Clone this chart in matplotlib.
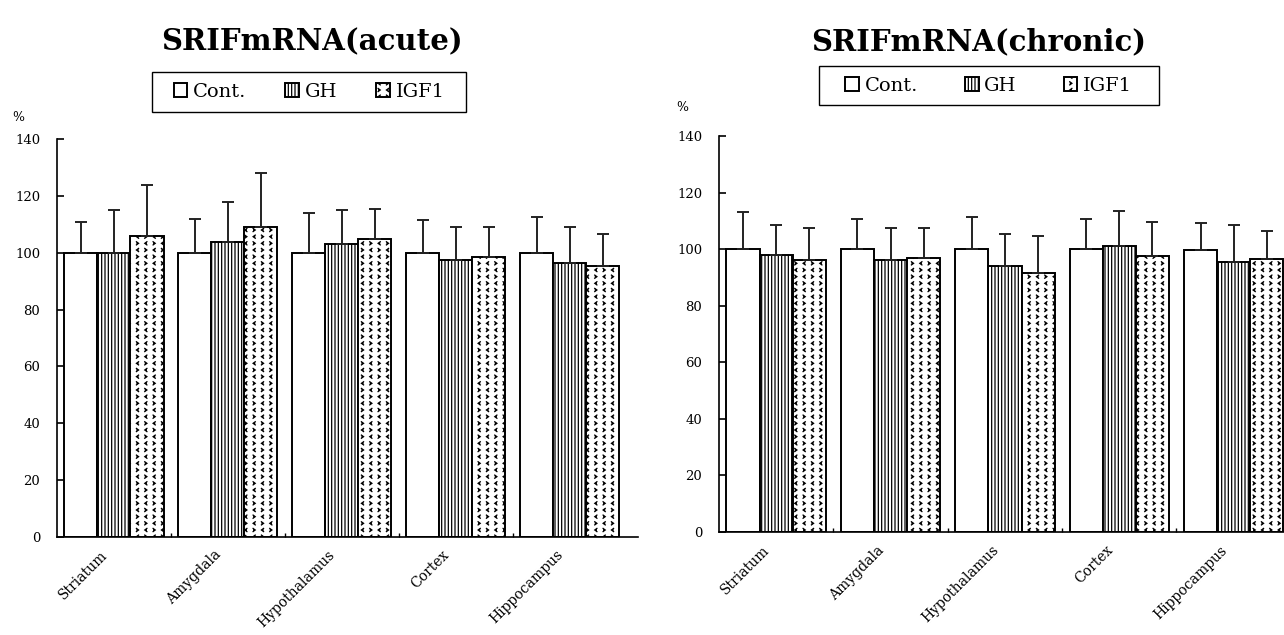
import numpy as np
import matplotlib
matplotlib.use('Agg')
import matplotlib.pyplot as plt
from matplotlib.patches import Rectangle
from matplotlib import hatch as mhatch
from matplotlib.path import Path

# data (percent of control, upper error bar length)
regions = ['Striatum', 'Amygdala', 'Hypothalamus', 'Cortex', 'Hippocampus']
groups = ['Cont.', 'GH', 'IGF1']

acute_cont = [100, 100, 100, 100, 100]
acute_gh = [100, 104, 103, 97.5, 96.5]
acute_igf1 = [106, 109, 105, 98.5, 95.5]
acute_cont_err = [11, 12, 14, 11.5, 12.5]
acute_gh_err = [15, 14, 12, 11.5, 12.5]
acute_igf1_err = [18, 19, 10.5, 10.5, 11]

chronic_cont = [100, 100, 100, 100, 99.6]
chronic_gh = [98, 96, 94, 101, 95.5]
chronic_igf1 = [96, 97, 91.5, 97.5, 96.5]
chronic_cont_err = [13, 10.5, 11.5, 10.5, 9.7]
chronic_gh_err = [10.5, 11.5, 11.5, 12.5, 13]
chronic_igf1_err = [11.5, 10.5, 13, 12, 9.8]

yticks = [0, 20, 40, 60, 80, 100, 120, 140]


# custom "< >" chevron hatch, used in place of the star hatch '*'
class Chevrons(mhatch.HatchPatternBase):
    def __init__(self, hatch, density):
        n = hatch.count('*')
        self.cols = 12 if n else 0
        self.rows = 15 if n else 0
        self.num_vertices = self.cols * self.rows * 3

    def set_vertices_and_codes(self, vertices, codes):
        k = 0
        w = 0.13 / self.cols
        h = 0.24 / self.rows
        for i in range(self.rows):
            for j in range(self.cols):
                cx = (j + 0.5) / self.cols
                cy = (i + 0.5) / self.rows
                d = 1 if (i + j) % 2 == 0 else -1
                vertices[k:k + 3] = [(cx - d * w, cy + h), (cx + d * w, cy), (cx - d * w, cy - h)]
                codes[k:k + 3] = [Path.MOVETO, Path.LINETO, Path.LINETO]
                k += 3


mhatch._hatch_types = [t for t in mhatch._hatch_types if t is not mhatch.Stars] + [Chevrons]

plt.rcParams['font.family'] = ['DejaVu Serif']
plt.rcParams['hatch.linewidth'] = 0.9

hatches = ['', '|||||', '*']
width = 0.29


def draw_panel(ax, means, errs, xmax):
    x = np.arange(len(regions))
    for k in range(3):
        pos = x + (k - 1) * width
        ax.bar(pos, means[k], width, color='white', edgecolor='black',
               linewidth=1.4, hatch=hatches[k], label=groups[k], zorder=2)
        ax.errorbar(pos, means[k], yerr=[np.zeros(len(regions)), errs[k]],
                    fmt='none', ecolor='#222222', elinewidth=1.4, capsize=4,
                    capthick=1.4, zorder=3)
    ax.set_xlim(-0.5, xmax)
    ax.set_ylim(0, 140)
    ax.set_yticks(yticks)
    ax.tick_params(axis='y', direction='in', length=5, width=1.2, labelsize=9.5, pad=12)
    # label anchors sit a little left of the group centre, tick marks hidden
    ax.set_xticks(x - 0.12)
    ax.set_xticklabels(regions, rotation=45, ha='right', rotation_mode='anchor', fontsize=10)
    ax.set_xticks(x[:-1] + 0.5, minor=True)
    ax.tick_params(axis='x', which='major', length=0, pad=8)
    ax.tick_params(axis='x', which='minor', direction='in', length=3, width=1)
    ax.spines['top'].set_visible(False)
    ax.spines['right'].set_visible(False)
    ax.spines['left'].set_linewidth(1.2)
    ax.spines['bottom'].set_linewidth(1.2)


def legend_box(ax, center, box, colsp):
    ax.legend(loc='center', bbox_to_anchor=center, bbox_transform=fig.transFigure,
              ncol=3, fontsize=14, frameon=False, handlelength=0.7, handleheight=0.7,
              handletextpad=0.3, columnspacing=colsp)
    # frame drawn separately so it can be wider than the entries need
    x0, y0, x1, y1 = box
    fig.add_artist(Rectangle((x0 / 1284, 1 - y1 / 635), (x1 - x0) / 1284, (y1 - y0) / 635,
                             transform=fig.transFigure, fill=False, edgecolor='black',
                             linewidth=1.0))


fig = plt.figure(figsize=(12.84, 6.35), dpi=100)

ax1 = fig.add_axes([0.0444, 0.1548, 0.4525, 0.6258])
draw_panel(ax1, [acute_cont, acute_gh, acute_igf1],
           [acute_cont_err, acute_gh_err, acute_igf1_err], 4.6)
ax1.text(-0.067, 1.056, '%', transform=ax1.transAxes, ha='center', va='center', fontsize=9)
fig.text(0.243, 0.934, 'SRIFmRNA(acute)', ha='center', va='center', fontsize=21, fontweight='bold')
legend_box(ax1, (0.2407, 0.855), (152, 72, 466, 112), 2.0)

ax2 = fig.add_axes([0.56, 0.1622, 0.44, 0.6236])
draw_panel(ax2, [chronic_cont, chronic_gh, chronic_igf1],
           [chronic_cont_err, chronic_gh_err, chronic_igf1_err], 4.44)
ax2.text(-0.065, 1.073, '%', transform=ax2.transAxes, ha='center', va='center', fontsize=9)
fig.text(0.762, 0.934, 'SRIFmRNA(chronic)', ha='center', va='center', fontsize=21, fontweight='bold')
legend_box(ax2, (0.770, 0.865), (819, 66, 1159, 105), 2.4)

fig.savefig('out.png', dpi=100)
